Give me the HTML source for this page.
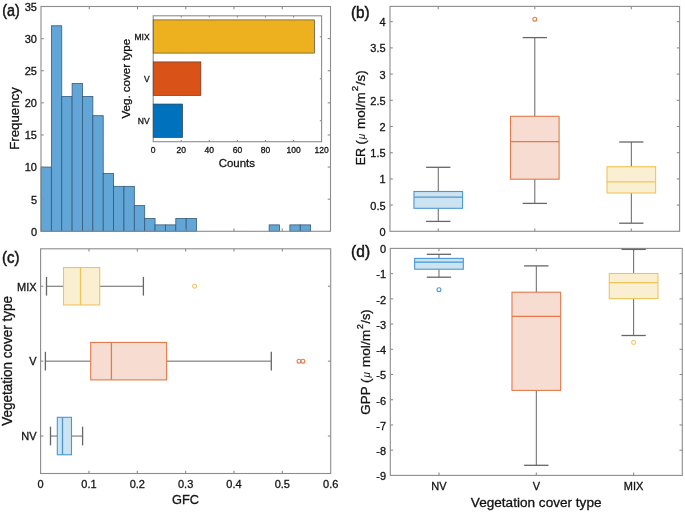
<!DOCTYPE html>
<html><head><meta charset="utf-8"><title>Figure</title>
<style>
html,body{margin:0;padding:0;background:#fff;}
body{width:685px;height:512px;overflow:hidden;}
svg{display:block;will-change:transform;}
text{font-family:"Liberation Sans", sans-serif;}
</style></head>
<body>
<svg width="685" height="512" viewBox="0 0 685 512">
<rect x="0" y="0" width="685" height="512" fill="#fff"/>
<rect x="41.00" y="167.07" width="10.37" height="64.23" fill="#62A6D8" stroke="#36597A" stroke-width="0.8"/>
<rect x="51.37" y="25.77" width="10.37" height="205.53" fill="#62A6D8" stroke="#36597A" stroke-width="0.8"/>
<rect x="61.74" y="96.42" width="10.37" height="134.88" fill="#62A6D8" stroke="#36597A" stroke-width="0.8"/>
<rect x="72.11" y="83.57" width="10.37" height="147.73" fill="#62A6D8" stroke="#36597A" stroke-width="0.8"/>
<rect x="82.48" y="96.42" width="10.37" height="134.88" fill="#62A6D8" stroke="#36597A" stroke-width="0.8"/>
<rect x="92.85" y="115.69" width="10.37" height="115.61" fill="#62A6D8" stroke="#36597A" stroke-width="0.8"/>
<rect x="103.22" y="173.49" width="10.37" height="57.81" fill="#62A6D8" stroke="#36597A" stroke-width="0.8"/>
<rect x="113.59" y="186.34" width="10.37" height="44.96" fill="#62A6D8" stroke="#36597A" stroke-width="0.8"/>
<rect x="123.96" y="186.34" width="10.37" height="44.96" fill="#62A6D8" stroke="#36597A" stroke-width="0.8"/>
<rect x="134.33" y="205.61" width="10.37" height="25.69" fill="#62A6D8" stroke="#36597A" stroke-width="0.8"/>
<rect x="144.70" y="218.45" width="10.37" height="12.85" fill="#62A6D8" stroke="#36597A" stroke-width="0.8"/>
<rect x="155.07" y="224.88" width="10.37" height="6.42" fill="#62A6D8" stroke="#36597A" stroke-width="0.8"/>
<rect x="165.44" y="224.88" width="10.37" height="6.42" fill="#62A6D8" stroke="#36597A" stroke-width="0.8"/>
<rect x="175.81" y="218.45" width="10.37" height="12.85" fill="#62A6D8" stroke="#36597A" stroke-width="0.8"/>
<rect x="186.18" y="218.45" width="10.37" height="12.85" fill="#62A6D8" stroke="#36597A" stroke-width="0.8"/>
<rect x="269.14" y="224.88" width="10.37" height="6.42" fill="#62A6D8" stroke="#36597A" stroke-width="0.8"/>
<rect x="289.88" y="224.88" width="10.37" height="6.42" fill="#62A6D8" stroke="#36597A" stroke-width="0.8"/>
<rect x="300.25" y="224.88" width="10.37" height="6.42" fill="#62A6D8" stroke="#36597A" stroke-width="0.8"/>
<rect x="41.00" y="6.50" width="289.50" height="224.80" fill="none" stroke="#8c8c8c" stroke-width="1.1"/>
<line x1="89.25" y1="231.30" x2="89.25" y2="228.50" stroke="#8c8c8c" stroke-width="1.1" />
<line x1="89.25" y1="6.50" x2="89.25" y2="9.30" stroke="#8c8c8c" stroke-width="1.1" />
<line x1="137.50" y1="231.30" x2="137.50" y2="228.50" stroke="#8c8c8c" stroke-width="1.1" />
<line x1="137.50" y1="6.50" x2="137.50" y2="9.30" stroke="#8c8c8c" stroke-width="1.1" />
<line x1="185.75" y1="231.30" x2="185.75" y2="228.50" stroke="#8c8c8c" stroke-width="1.1" />
<line x1="185.75" y1="6.50" x2="185.75" y2="9.30" stroke="#8c8c8c" stroke-width="1.1" />
<line x1="234.00" y1="231.30" x2="234.00" y2="228.50" stroke="#8c8c8c" stroke-width="1.1" />
<line x1="234.00" y1="6.50" x2="234.00" y2="9.30" stroke="#8c8c8c" stroke-width="1.1" />
<line x1="282.25" y1="231.30" x2="282.25" y2="228.50" stroke="#8c8c8c" stroke-width="1.1" />
<line x1="282.25" y1="6.50" x2="282.25" y2="9.30" stroke="#8c8c8c" stroke-width="1.1" />
<line x1="41.00" y1="199.19" x2="43.80" y2="199.19" stroke="#8c8c8c" stroke-width="1.1" />
<line x1="330.50" y1="199.19" x2="327.70" y2="199.19" stroke="#8c8c8c" stroke-width="1.1" />
<line x1="41.00" y1="167.07" x2="43.80" y2="167.07" stroke="#8c8c8c" stroke-width="1.1" />
<line x1="330.50" y1="167.07" x2="327.70" y2="167.07" stroke="#8c8c8c" stroke-width="1.1" />
<line x1="41.00" y1="134.96" x2="43.80" y2="134.96" stroke="#8c8c8c" stroke-width="1.1" />
<line x1="330.50" y1="134.96" x2="327.70" y2="134.96" stroke="#8c8c8c" stroke-width="1.1" />
<line x1="41.00" y1="102.84" x2="43.80" y2="102.84" stroke="#8c8c8c" stroke-width="1.1" />
<line x1="330.50" y1="102.84" x2="327.70" y2="102.84" stroke="#8c8c8c" stroke-width="1.1" />
<line x1="41.00" y1="70.73" x2="43.80" y2="70.73" stroke="#8c8c8c" stroke-width="1.1" />
<line x1="330.50" y1="70.73" x2="327.70" y2="70.73" stroke="#8c8c8c" stroke-width="1.1" />
<line x1="41.00" y1="38.61" x2="43.80" y2="38.61" stroke="#8c8c8c" stroke-width="1.1" />
<line x1="330.50" y1="38.61" x2="327.70" y2="38.61" stroke="#8c8c8c" stroke-width="1.1" />
<text x="37.00" y="235.70" font-size="11" text-anchor="end" fill="#141414" stroke="#141414" stroke-width="0.3">0</text>
<text x="37.00" y="203.59" font-size="11" text-anchor="end" fill="#141414" stroke="#141414" stroke-width="0.3">5</text>
<text x="37.00" y="171.47" font-size="11" text-anchor="end" fill="#141414" stroke="#141414" stroke-width="0.3">10</text>
<text x="37.00" y="139.36" font-size="11" text-anchor="end" fill="#141414" stroke="#141414" stroke-width="0.3">15</text>
<text x="37.00" y="107.24" font-size="11" text-anchor="end" fill="#141414" stroke="#141414" stroke-width="0.3">20</text>
<text x="37.00" y="75.13" font-size="11" text-anchor="end" fill="#141414" stroke="#141414" stroke-width="0.3">25</text>
<text x="37.00" y="43.01" font-size="11" text-anchor="end" fill="#141414" stroke="#141414" stroke-width="0.3">30</text>
<text x="37.00" y="10.90" font-size="11" text-anchor="end" fill="#141414" stroke="#141414" stroke-width="0.3">35</text>
<text x="0" y="0" font-size="100" fill="#141414" stroke="#141414" stroke-width="2.305" transform="translate(18.917 149.760) rotate(-90) scale(0.13254 0.12778)" >Frequency</text>
<text x="0" y="0" font-size="100" fill="#141414" stroke="#141414" stroke-width="3.150" transform="translate(2.138 16.104) scale(0.14364 0.16170)" >(a)</text>
<rect x="153.2" y="15.8" width="168.40" height="125.90" fill="#fff"/>
<rect x="153.20" y="15.80" width="168.40" height="125.90" fill="none" stroke="#8c8c8c" stroke-width="1.1"/>
<line x1="181.27" y1="141.70" x2="181.27" y2="139.90" stroke="#8c8c8c" stroke-width="1.1" />
<line x1="181.27" y1="15.80" x2="181.27" y2="17.60" stroke="#8c8c8c" stroke-width="1.1" />
<line x1="209.33" y1="141.70" x2="209.33" y2="139.90" stroke="#8c8c8c" stroke-width="1.1" />
<line x1="209.33" y1="15.80" x2="209.33" y2="17.60" stroke="#8c8c8c" stroke-width="1.1" />
<line x1="237.40" y1="141.70" x2="237.40" y2="139.90" stroke="#8c8c8c" stroke-width="1.1" />
<line x1="237.40" y1="15.80" x2="237.40" y2="17.60" stroke="#8c8c8c" stroke-width="1.1" />
<line x1="265.47" y1="141.70" x2="265.47" y2="139.90" stroke="#8c8c8c" stroke-width="1.1" />
<line x1="265.47" y1="15.80" x2="265.47" y2="17.60" stroke="#8c8c8c" stroke-width="1.1" />
<line x1="293.53" y1="141.70" x2="293.53" y2="139.90" stroke="#8c8c8c" stroke-width="1.1" />
<line x1="293.53" y1="15.80" x2="293.53" y2="17.60" stroke="#8c8c8c" stroke-width="1.1" />
<line x1="153.20" y1="120.72" x2="155.00" y2="120.72" stroke="#8c8c8c" stroke-width="1.1" />
<line x1="321.60" y1="120.72" x2="319.80" y2="120.72" stroke="#8c8c8c" stroke-width="1.1" />
<line x1="153.20" y1="78.75" x2="155.00" y2="78.75" stroke="#8c8c8c" stroke-width="1.1" />
<line x1="321.60" y1="78.75" x2="319.80" y2="78.75" stroke="#8c8c8c" stroke-width="1.1" />
<line x1="153.20" y1="36.78" x2="155.00" y2="36.78" stroke="#8c8c8c" stroke-width="1.1" />
<line x1="321.60" y1="36.78" x2="319.80" y2="36.78" stroke="#8c8c8c" stroke-width="1.1" />
<rect x="153.20" y="19.90" width="161.38" height="33.20" fill="#EDB120" stroke="#3a3a3a" stroke-width="0.6"/>
<rect x="153.20" y="61.90" width="47.71" height="33.70" fill="#D95319" stroke="#3a3a3a" stroke-width="0.6"/>
<rect x="153.20" y="104.00" width="29.47" height="33.60" fill="#0072BD" stroke="#3a3a3a" stroke-width="0.6"/>
<text x="153.20" y="152.60" font-size="8.5" text-anchor="middle" fill="#141414" stroke="#141414" stroke-width="0.3">0</text>
<text x="181.27" y="152.60" font-size="8.5" text-anchor="middle" fill="#141414" stroke="#141414" stroke-width="0.3">20</text>
<text x="209.33" y="152.60" font-size="8.5" text-anchor="middle" fill="#141414" stroke="#141414" stroke-width="0.3">40</text>
<text x="237.40" y="152.60" font-size="8.5" text-anchor="middle" fill="#141414" stroke="#141414" stroke-width="0.3">60</text>
<text x="265.47" y="152.60" font-size="8.5" text-anchor="middle" fill="#141414" stroke="#141414" stroke-width="0.3">80</text>
<text x="293.53" y="152.60" font-size="8.5" text-anchor="middle" fill="#141414" stroke="#141414" stroke-width="0.3">100</text>
<text x="321.60" y="152.60" font-size="8.5" text-anchor="middle" fill="#141414" stroke="#141414" stroke-width="0.3">120</text>
<text x="0" y="0" font-size="100" fill="#141414" stroke="#141414" stroke-width="2.670" transform="translate(218.625 166.890) scale(0.11494 0.10986)" >Counts</text>
<text x="149.60" y="39.78" font-size="8.5" text-anchor="end" fill="#141414" stroke="#141414" stroke-width="0.3">MIX</text>
<text x="149.60" y="81.75" font-size="8.5" text-anchor="end" fill="#141414" stroke="#141414" stroke-width="0.3">V</text>
<text x="149.60" y="123.72" font-size="8.5" text-anchor="end" fill="#141414" stroke="#141414" stroke-width="0.3">NV</text>
<text x="0" y="0" font-size="100" fill="#141414" stroke="#141414" stroke-width="2.619" transform="translate(129.820 118.516) rotate(-90) scale(0.11579 0.11333)" >Veg. cover type</text>
<rect x="390.00" y="6.40" width="289.60" height="224.90" fill="none" stroke="#8c8c8c" stroke-width="1.1"/>
<line x1="438.27" y1="231.30" x2="438.27" y2="228.50" stroke="#8c8c8c" stroke-width="1.1" />
<line x1="438.27" y1="6.40" x2="438.27" y2="9.20" stroke="#8c8c8c" stroke-width="1.1" />
<line x1="534.80" y1="231.30" x2="534.80" y2="228.50" stroke="#8c8c8c" stroke-width="1.1" />
<line x1="534.80" y1="6.40" x2="534.80" y2="9.20" stroke="#8c8c8c" stroke-width="1.1" />
<line x1="631.33" y1="231.30" x2="631.33" y2="228.50" stroke="#8c8c8c" stroke-width="1.1" />
<line x1="631.33" y1="6.40" x2="631.33" y2="9.20" stroke="#8c8c8c" stroke-width="1.1" />
<line x1="390.00" y1="205.10" x2="392.80" y2="205.10" stroke="#8c8c8c" stroke-width="1.1" />
<line x1="679.60" y1="205.10" x2="676.80" y2="205.10" stroke="#8c8c8c" stroke-width="1.1" />
<line x1="390.00" y1="178.90" x2="392.80" y2="178.90" stroke="#8c8c8c" stroke-width="1.1" />
<line x1="679.60" y1="178.90" x2="676.80" y2="178.90" stroke="#8c8c8c" stroke-width="1.1" />
<line x1="390.00" y1="152.70" x2="392.80" y2="152.70" stroke="#8c8c8c" stroke-width="1.1" />
<line x1="679.60" y1="152.70" x2="676.80" y2="152.70" stroke="#8c8c8c" stroke-width="1.1" />
<line x1="390.00" y1="126.50" x2="392.80" y2="126.50" stroke="#8c8c8c" stroke-width="1.1" />
<line x1="679.60" y1="126.50" x2="676.80" y2="126.50" stroke="#8c8c8c" stroke-width="1.1" />
<line x1="390.00" y1="100.30" x2="392.80" y2="100.30" stroke="#8c8c8c" stroke-width="1.1" />
<line x1="679.60" y1="100.30" x2="676.80" y2="100.30" stroke="#8c8c8c" stroke-width="1.1" />
<line x1="390.00" y1="74.10" x2="392.80" y2="74.10" stroke="#8c8c8c" stroke-width="1.1" />
<line x1="679.60" y1="74.10" x2="676.80" y2="74.10" stroke="#8c8c8c" stroke-width="1.1" />
<line x1="390.00" y1="47.90" x2="392.80" y2="47.90" stroke="#8c8c8c" stroke-width="1.1" />
<line x1="679.60" y1="47.90" x2="676.80" y2="47.90" stroke="#8c8c8c" stroke-width="1.1" />
<line x1="390.00" y1="21.70" x2="392.80" y2="21.70" stroke="#8c8c8c" stroke-width="1.1" />
<line x1="679.60" y1="21.70" x2="676.80" y2="21.70" stroke="#8c8c8c" stroke-width="1.1" />
<text x="385.60" y="235.70" font-size="11" text-anchor="end" fill="#141414" stroke="#141414" stroke-width="0.3">0</text>
<text x="385.60" y="209.50" font-size="11" text-anchor="end" fill="#141414" stroke="#141414" stroke-width="0.3">0.5</text>
<text x="385.60" y="183.30" font-size="11" text-anchor="end" fill="#141414" stroke="#141414" stroke-width="0.3">1</text>
<text x="385.60" y="157.10" font-size="11" text-anchor="end" fill="#141414" stroke="#141414" stroke-width="0.3">1.5</text>
<text x="385.60" y="130.90" font-size="11" text-anchor="end" fill="#141414" stroke="#141414" stroke-width="0.3">2</text>
<text x="385.60" y="104.70" font-size="11" text-anchor="end" fill="#141414" stroke="#141414" stroke-width="0.3">2.5</text>
<text x="385.60" y="78.50" font-size="11" text-anchor="end" fill="#141414" stroke="#141414" stroke-width="0.3">3</text>
<text x="385.60" y="52.30" font-size="11" text-anchor="end" fill="#141414" stroke="#141414" stroke-width="0.3">3.5</text>
<text x="385.60" y="26.10" font-size="11" text-anchor="end" fill="#141414" stroke="#141414" stroke-width="0.3">4</text>
<text x="0" y="0" font-size="100" fill="#141414" stroke="#141414" stroke-width="2.374" transform="translate(364.719 165.301) rotate(-90) scale(0.12513 0.12766)" >ER (</text>
<text x="0" y="0" font-size="100" fill="#141414" stroke="#141414" stroke-width="0.000" transform="translate(364.844 139.300) rotate(-90) scale(0.10000 0.11781)" font-family="Liberation Serif" font-style="italic">μ</text>
<text x="0" y="0" font-size="100" fill="#141414" stroke="#141414" stroke-width="2.315" transform="translate(364.776 129.046) rotate(-90) scale(0.13514 0.12432)" >mol/m</text>
<text x="0" y="0" font-size="100" fill="#141414" stroke="#141414" stroke-width="3.172" transform="translate(357.700 91.289) rotate(-90) scale(0.09783 0.09143)" >2</text>
<text x="0" y="0" font-size="100" fill="#141414" stroke="#141414" stroke-width="2.309" transform="translate(364.741 85.200) rotate(-90) scale(0.13333 0.12660)" >/s)</text>
<text x="0" y="0" font-size="100" fill="#141414" stroke="#141414" stroke-width="3.075" transform="translate(350.884 17.649) scale(0.15273 0.15957)" >(b)</text>
<line x1="438.27" y1="167.30" x2="438.27" y2="191.50" stroke="#666666" stroke-width="1.0" />
<line x1="438.27" y1="208.30" x2="438.27" y2="221.40" stroke="#666666" stroke-width="1.0" />
<line x1="426.12" y1="167.30" x2="450.42" y2="167.30" stroke="#666666" stroke-width="1.3" />
<line x1="426.12" y1="221.40" x2="450.42" y2="221.40" stroke="#666666" stroke-width="1.3" />
<rect x="413.97" y="191.50" width="48.60" height="16.80" fill="#CCE3F2" stroke="#4A97D0" stroke-width="1.1"/>
<line x1="413.97" y1="197.20" x2="462.57" y2="197.20" stroke="#4A97D0" stroke-width="1.3" />
<line x1="534.80" y1="37.60" x2="534.80" y2="116.30" stroke="#666666" stroke-width="1.0" />
<line x1="534.80" y1="179.20" x2="534.80" y2="203.40" stroke="#666666" stroke-width="1.0" />
<line x1="522.65" y1="37.60" x2="546.95" y2="37.60" stroke="#666666" stroke-width="1.3" />
<line x1="522.65" y1="203.40" x2="546.95" y2="203.40" stroke="#666666" stroke-width="1.3" />
<rect x="510.50" y="116.30" width="48.60" height="62.90" fill="#F7DDD1" stroke="#E27A4C" stroke-width="1.1"/>
<line x1="510.50" y1="141.70" x2="559.10" y2="141.70" stroke="#E27A4C" stroke-width="1.3" />
<circle cx="534.80" cy="19.20" r="1.95" fill="none" stroke="#E27A4C" stroke-width="1.1"/>
<line x1="631.33" y1="142.00" x2="631.33" y2="166.70" stroke="#666666" stroke-width="1.0" />
<line x1="631.33" y1="193.00" x2="631.33" y2="223.20" stroke="#666666" stroke-width="1.0" />
<line x1="619.18" y1="142.00" x2="643.48" y2="142.00" stroke="#666666" stroke-width="1.3" />
<line x1="619.18" y1="223.20" x2="643.48" y2="223.20" stroke="#666666" stroke-width="1.3" />
<rect x="607.03" y="166.70" width="48.60" height="26.30" fill="#FBEFD2" stroke="#F0C45A" stroke-width="1.1"/>
<line x1="607.03" y1="181.90" x2="655.63" y2="181.90" stroke="#F0C45A" stroke-width="1.3" />
<rect x="40.60" y="248.80" width="290.10" height="224.70" fill="none" stroke="#8c8c8c" stroke-width="1.1"/>
<line x1="88.95" y1="473.50" x2="88.95" y2="470.70" stroke="#8c8c8c" stroke-width="1.1" />
<line x1="88.95" y1="248.80" x2="88.95" y2="251.60" stroke="#8c8c8c" stroke-width="1.1" />
<line x1="137.30" y1="473.50" x2="137.30" y2="470.70" stroke="#8c8c8c" stroke-width="1.1" />
<line x1="137.30" y1="248.80" x2="137.30" y2="251.60" stroke="#8c8c8c" stroke-width="1.1" />
<line x1="185.65" y1="473.50" x2="185.65" y2="470.70" stroke="#8c8c8c" stroke-width="1.1" />
<line x1="185.65" y1="248.80" x2="185.65" y2="251.60" stroke="#8c8c8c" stroke-width="1.1" />
<line x1="234.00" y1="473.50" x2="234.00" y2="470.70" stroke="#8c8c8c" stroke-width="1.1" />
<line x1="234.00" y1="248.80" x2="234.00" y2="251.60" stroke="#8c8c8c" stroke-width="1.1" />
<line x1="282.35" y1="473.50" x2="282.35" y2="470.70" stroke="#8c8c8c" stroke-width="1.1" />
<line x1="282.35" y1="248.80" x2="282.35" y2="251.60" stroke="#8c8c8c" stroke-width="1.1" />
<line x1="40.60" y1="436.05" x2="43.40" y2="436.05" stroke="#8c8c8c" stroke-width="1.1" />
<line x1="330.70" y1="436.05" x2="327.90" y2="436.05" stroke="#8c8c8c" stroke-width="1.1" />
<line x1="40.60" y1="361.15" x2="43.40" y2="361.15" stroke="#8c8c8c" stroke-width="1.1" />
<line x1="330.70" y1="361.15" x2="327.90" y2="361.15" stroke="#8c8c8c" stroke-width="1.1" />
<line x1="40.60" y1="286.25" x2="43.40" y2="286.25" stroke="#8c8c8c" stroke-width="1.1" />
<line x1="330.70" y1="286.25" x2="327.90" y2="286.25" stroke="#8c8c8c" stroke-width="1.1" />
<text x="40.60" y="488.40" font-size="11" text-anchor="middle" fill="#141414" stroke="#141414" stroke-width="0.3">0</text>
<text x="88.95" y="488.40" font-size="11" text-anchor="middle" fill="#141414" stroke="#141414" stroke-width="0.3">0.1</text>
<text x="137.30" y="488.40" font-size="11" text-anchor="middle" fill="#141414" stroke="#141414" stroke-width="0.3">0.2</text>
<text x="185.65" y="488.40" font-size="11" text-anchor="middle" fill="#141414" stroke="#141414" stroke-width="0.3">0.3</text>
<text x="234.00" y="488.40" font-size="11" text-anchor="middle" fill="#141414" stroke="#141414" stroke-width="0.3">0.4</text>
<text x="282.35" y="488.40" font-size="11" text-anchor="middle" fill="#141414" stroke="#141414" stroke-width="0.3">0.5</text>
<text x="330.70" y="488.40" font-size="11" text-anchor="middle" fill="#141414" stroke="#141414" stroke-width="0.3">0.6</text>
<text x="0" y="0" font-size="100" fill="#141414" stroke="#141414" stroke-width="2.380" transform="translate(172.059 504.476) scale(0.12822 0.12394)" >GFC</text>
<text x="36.60" y="290.55" font-size="11" text-anchor="end" fill="#141414" stroke="#141414" stroke-width="0.3">MIX</text>
<text x="36.60" y="365.45" font-size="11" text-anchor="end" fill="#141414" stroke="#141414" stroke-width="0.3">V</text>
<text x="36.60" y="440.35" font-size="11" text-anchor="end" fill="#141414" stroke="#141414" stroke-width="0.3">NV</text>
<text x="0" y="0" font-size="100" fill="#141414" stroke="#141414" stroke-width="2.203" transform="translate(11.718 425.735) rotate(-90) scale(0.13511 0.13723)" >Vegetation cover type</text>
<text x="0" y="0" font-size="100" fill="#141414" stroke="#141414" stroke-width="3.004" transform="translate(2.100 262.726) scale(0.15000 0.17021)" >(c)</text>
<line x1="46.50" y1="286.25" x2="63.50" y2="286.25" stroke="#666666" stroke-width="1.0" />
<line x1="99.70" y1="286.25" x2="143.40" y2="286.25" stroke="#666666" stroke-width="1.0" />
<line x1="46.50" y1="276.89" x2="46.50" y2="295.61" stroke="#666666" stroke-width="1.3" />
<line x1="143.40" y1="276.89" x2="143.40" y2="295.61" stroke="#666666" stroke-width="1.3" />
<rect x="63.50" y="267.52" width="36.20" height="37.45" fill="#FBEFD2" stroke="#F0C45A" stroke-width="1.1"/>
<line x1="80.50" y1="267.52" x2="80.50" y2="304.98" stroke="#F0C45A" stroke-width="1.3" />
<circle cx="194.60" cy="286.25" r="1.95" fill="none" stroke="#F0C45A" stroke-width="1.1"/>
<line x1="45.40" y1="361.15" x2="90.70" y2="361.15" stroke="#666666" stroke-width="1.0" />
<line x1="166.60" y1="361.15" x2="271.30" y2="361.15" stroke="#666666" stroke-width="1.0" />
<line x1="45.40" y1="351.79" x2="45.40" y2="370.51" stroke="#666666" stroke-width="1.3" />
<line x1="271.30" y1="351.79" x2="271.30" y2="370.51" stroke="#666666" stroke-width="1.3" />
<rect x="90.70" y="342.43" width="75.90" height="37.45" fill="#F7DDD1" stroke="#E27A4C" stroke-width="1.1"/>
<line x1="111.40" y1="342.43" x2="111.40" y2="379.88" stroke="#E27A4C" stroke-width="1.3" />
<circle cx="299.00" cy="361.15" r="1.95" fill="none" stroke="#E27A4C" stroke-width="1.1"/>
<circle cx="302.90" cy="361.15" r="1.95" fill="none" stroke="#E27A4C" stroke-width="1.1"/>
<line x1="50.50" y1="436.05" x2="57.30" y2="436.05" stroke="#666666" stroke-width="1.0" />
<line x1="71.50" y1="436.05" x2="82.60" y2="436.05" stroke="#666666" stroke-width="1.0" />
<line x1="50.50" y1="426.69" x2="50.50" y2="445.41" stroke="#666666" stroke-width="1.3" />
<line x1="82.60" y1="426.69" x2="82.60" y2="445.41" stroke="#666666" stroke-width="1.3" />
<rect x="57.30" y="417.32" width="14.20" height="37.45" fill="#CCE3F2" stroke="#4A97D0" stroke-width="1.1"/>
<line x1="62.50" y1="417.32" x2="62.50" y2="454.78" stroke="#4A97D0" stroke-width="1.3" />
<rect x="390.30" y="248.40" width="292.00" height="227.00" fill="none" stroke="#8c8c8c" stroke-width="1.1"/>
<line x1="438.97" y1="475.40" x2="438.97" y2="472.60" stroke="#8c8c8c" stroke-width="1.1" />
<line x1="438.97" y1="248.40" x2="438.97" y2="251.20" stroke="#8c8c8c" stroke-width="1.1" />
<line x1="536.30" y1="475.40" x2="536.30" y2="472.60" stroke="#8c8c8c" stroke-width="1.1" />
<line x1="536.30" y1="248.40" x2="536.30" y2="251.20" stroke="#8c8c8c" stroke-width="1.1" />
<line x1="633.63" y1="475.40" x2="633.63" y2="472.60" stroke="#8c8c8c" stroke-width="1.1" />
<line x1="633.63" y1="248.40" x2="633.63" y2="251.20" stroke="#8c8c8c" stroke-width="1.1" />
<line x1="390.30" y1="273.62" x2="393.10" y2="273.62" stroke="#8c8c8c" stroke-width="1.1" />
<line x1="682.30" y1="273.62" x2="679.50" y2="273.62" stroke="#8c8c8c" stroke-width="1.1" />
<line x1="390.30" y1="298.84" x2="393.10" y2="298.84" stroke="#8c8c8c" stroke-width="1.1" />
<line x1="682.30" y1="298.84" x2="679.50" y2="298.84" stroke="#8c8c8c" stroke-width="1.1" />
<line x1="390.30" y1="324.07" x2="393.10" y2="324.07" stroke="#8c8c8c" stroke-width="1.1" />
<line x1="682.30" y1="324.07" x2="679.50" y2="324.07" stroke="#8c8c8c" stroke-width="1.1" />
<line x1="390.30" y1="349.29" x2="393.10" y2="349.29" stroke="#8c8c8c" stroke-width="1.1" />
<line x1="682.30" y1="349.29" x2="679.50" y2="349.29" stroke="#8c8c8c" stroke-width="1.1" />
<line x1="390.30" y1="374.51" x2="393.10" y2="374.51" stroke="#8c8c8c" stroke-width="1.1" />
<line x1="682.30" y1="374.51" x2="679.50" y2="374.51" stroke="#8c8c8c" stroke-width="1.1" />
<line x1="390.30" y1="399.73" x2="393.10" y2="399.73" stroke="#8c8c8c" stroke-width="1.1" />
<line x1="682.30" y1="399.73" x2="679.50" y2="399.73" stroke="#8c8c8c" stroke-width="1.1" />
<line x1="390.30" y1="424.96" x2="393.10" y2="424.96" stroke="#8c8c8c" stroke-width="1.1" />
<line x1="682.30" y1="424.96" x2="679.50" y2="424.96" stroke="#8c8c8c" stroke-width="1.1" />
<line x1="390.30" y1="450.18" x2="393.10" y2="450.18" stroke="#8c8c8c" stroke-width="1.1" />
<line x1="682.30" y1="450.18" x2="679.50" y2="450.18" stroke="#8c8c8c" stroke-width="1.1" />
<text x="386.00" y="253.20" font-size="11" text-anchor="end" fill="#141414" stroke="#141414" stroke-width="0.3">0</text>
<text x="386.00" y="278.42" font-size="11" text-anchor="end" fill="#141414" stroke="#141414" stroke-width="0.3">-1</text>
<text x="386.00" y="303.64" font-size="11" text-anchor="end" fill="#141414" stroke="#141414" stroke-width="0.3">-2</text>
<text x="386.00" y="328.87" font-size="11" text-anchor="end" fill="#141414" stroke="#141414" stroke-width="0.3">-3</text>
<text x="386.00" y="354.09" font-size="11" text-anchor="end" fill="#141414" stroke="#141414" stroke-width="0.3">-4</text>
<text x="386.00" y="379.31" font-size="11" text-anchor="end" fill="#141414" stroke="#141414" stroke-width="0.3">-5</text>
<text x="386.00" y="404.53" font-size="11" text-anchor="end" fill="#141414" stroke="#141414" stroke-width="0.3">-6</text>
<text x="386.00" y="429.76" font-size="11" text-anchor="end" fill="#141414" stroke="#141414" stroke-width="0.3">-7</text>
<text x="386.00" y="454.98" font-size="11" text-anchor="end" fill="#141414" stroke="#141414" stroke-width="0.3">-8</text>
<text x="386.00" y="480.20" font-size="11" text-anchor="end" fill="#141414" stroke="#141414" stroke-width="0.3">-9</text>
<text x="438.97" y="490.40" font-size="11" text-anchor="middle" fill="#141414" stroke="#141414" stroke-width="0.3">NV</text>
<text x="536.30" y="490.40" font-size="11" text-anchor="middle" fill="#141414" stroke="#141414" stroke-width="0.3">V</text>
<text x="633.63" y="490.40" font-size="11" text-anchor="middle" fill="#141414" stroke="#141414" stroke-width="0.3">MIX</text>
<text x="0" y="0" font-size="100" fill="#141414" stroke="#141414" stroke-width="2.287" transform="translate(470.864 506.541) scale(0.13595 0.12660)" >Vegetation cover type</text>
<text x="0" y="0" font-size="100" fill="#141414" stroke="#141414" stroke-width="2.257" transform="translate(369.930 414.670) rotate(-90) scale(0.13396 0.13191)" >GPP (</text>
<text x="0" y="0" font-size="100" fill="#141414" stroke="#141414" stroke-width="0.000" transform="translate(370.218 377.504) rotate(-90) scale(0.09818 0.10411)" font-family="Liberation Serif" font-style="italic">μ</text>
<text x="0" y="0" font-size="100" fill="#141414" stroke="#141414" stroke-width="2.301" transform="translate(369.977 367.368) rotate(-90) scale(0.13822 0.12297)" >mol/m</text>
<text x="0" y="0" font-size="100" fill="#141414" stroke="#141414" stroke-width="3.418" transform="translate(362.500 328.935) rotate(-90) scale(0.08696 0.08857)" >2</text>
<text x="0" y="0" font-size="100" fill="#141414" stroke="#141414" stroke-width="2.349" transform="translate(369.897 323.500) rotate(-90) scale(0.12667 0.12872)" >/s)</text>
<text x="0" y="0" font-size="100" fill="#141414" stroke="#141414" stroke-width="3.018" transform="translate(351.067 257.382) scale(0.15545 0.16277)" >(d)</text>
<line x1="438.97" y1="254.30" x2="438.97" y2="258.40" stroke="#666666" stroke-width="1.0" />
<line x1="438.97" y1="269.20" x2="438.97" y2="277.20" stroke="#666666" stroke-width="1.0" />
<line x1="426.80" y1="254.30" x2="451.13" y2="254.30" stroke="#666666" stroke-width="1.3" />
<line x1="426.80" y1="277.20" x2="451.13" y2="277.20" stroke="#666666" stroke-width="1.3" />
<rect x="414.63" y="258.40" width="48.67" height="10.80" fill="#CCE3F2" stroke="#4A97D0" stroke-width="1.1"/>
<line x1="414.63" y1="262.10" x2="463.30" y2="262.10" stroke="#4A97D0" stroke-width="1.3" />
<circle cx="438.97" cy="289.70" r="1.95" fill="none" stroke="#4A97D0" stroke-width="1.1"/>
<line x1="536.30" y1="265.90" x2="536.30" y2="292.20" stroke="#666666" stroke-width="1.0" />
<line x1="536.30" y1="390.40" x2="536.30" y2="465.30" stroke="#666666" stroke-width="1.0" />
<line x1="524.13" y1="265.90" x2="548.47" y2="265.90" stroke="#666666" stroke-width="1.3" />
<line x1="524.13" y1="465.30" x2="548.47" y2="465.30" stroke="#666666" stroke-width="1.3" />
<rect x="511.97" y="292.20" width="48.67" height="98.20" fill="#F7DDD1" stroke="#E27A4C" stroke-width="1.1"/>
<line x1="511.97" y1="316.40" x2="560.63" y2="316.40" stroke="#E27A4C" stroke-width="1.3" />
<line x1="633.63" y1="249.40" x2="633.63" y2="273.50" stroke="#666666" stroke-width="1.0" />
<line x1="633.63" y1="298.60" x2="633.63" y2="335.50" stroke="#666666" stroke-width="1.0" />
<line x1="621.47" y1="249.40" x2="645.80" y2="249.40" stroke="#666666" stroke-width="1.3" />
<line x1="621.47" y1="335.50" x2="645.80" y2="335.50" stroke="#666666" stroke-width="1.3" />
<rect x="609.30" y="273.50" width="48.67" height="25.10" fill="#FBEFD2" stroke="#F0C45A" stroke-width="1.1"/>
<line x1="609.30" y1="282.70" x2="657.97" y2="282.70" stroke="#F0C45A" stroke-width="1.3" />
<circle cx="633.63" cy="342.50" r="1.95" fill="none" stroke="#F0C45A" stroke-width="1.1"/>
</svg>
</body></html>
